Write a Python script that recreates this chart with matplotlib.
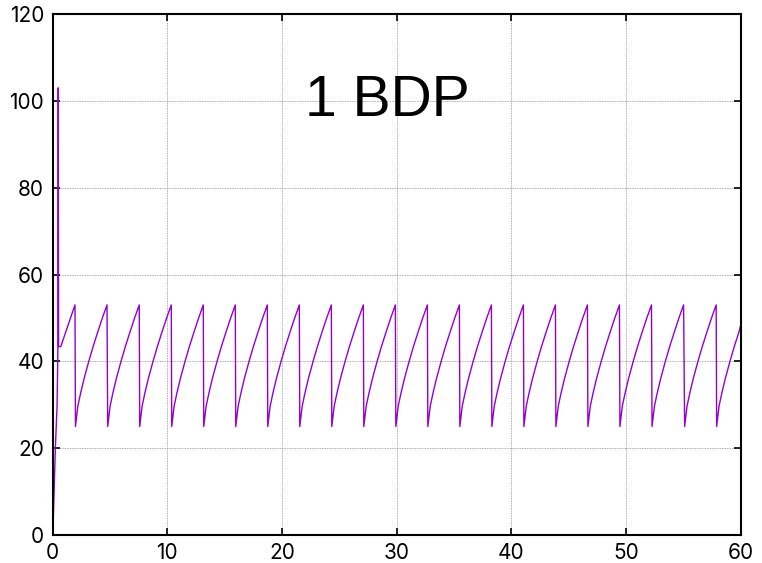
import numpy as np
import matplotlib
matplotlib.use("Agg")
import matplotlib.pyplot as plt

# Start-up phase (time s, value)
start_t = [0.0, 0.05, 0.25, 0.40, 0.47, 0.50, 0.53, 0.72, 1.96]
start_v = [0.0, 2.0, 20.0, 30.0, 43.0, 103.0, 43.4, 43.4, 53.0]

# Times of the sawtooth drops (peak -> trough)
drop_t = [1.96, 4.77, 7.56, 10.35, 13.14, 15.93, 18.72, 21.51, 24.30, 27.09,
          29.88, 32.67, 35.46, 38.25, 41.04, 43.83, 46.62, 49.41, 52.21,
          55.05, 57.84]

# One growth cycle after a drop (time since drop, value)
cycle_dt = [0.04, 0.25, 0.50, 0.80, 1.20, 1.60, 2.00, 2.40, 2.79]
cycle_v = [25.0, 29.7, 32.8, 36.1, 40.0, 43.6, 46.9, 50.1, 53.0]

title = "1 BDP"
x_ticks = [0, 10, 20, 30, 40, 50, 60]
y_ticks = [0, 20, 40, 60, 80, 100, 120]

# Assemble the series
t = list(start_t)
v = list(start_v)
for i, d in enumerate(drop_t):
    nxt = drop_t[i + 1] if i + 1 < len(drop_t) else 60.0
    for dt, val in zip(cycle_dt, cycle_v):
        if d + dt <= nxt + 1e-9:
            t.append(d + dt)
            v.append(val)
    if i + 1 == len(drop_t):
        # last partial cycle up to x=60
        t.append(60.0)
        v.append(48.6)

plt.rcParams['font.family'] = ['Inter', 'DejaVu Sans']
fig = plt.figure(figsize=(7.62, 5.63), dpi=100)
ax = fig.add_axes([0.0689, 0.0497, 0.9724 - 0.0689, 0.9751 - 0.0497])

ax.plot(t, v, color='#9400D3', lw=1.0)

ax.set_xlim(0, 60)
ax.set_ylim(0, 120)
ax.set_xticks(x_ticks)
ax.set_yticks(y_ticks)
ax.grid(True, color='#909090', linestyle=(0, (1, 1)), linewidth=0.6)
ax.tick_params(direction='in', length=5, width=1.2, top=True, right=True,
               labelsize=15, pad=6, colors='black')
for s in ax.spines.values():
    s.set_linewidth(1.5)

ax.text(29.2, 96.5, title, ha='center', va='baseline', fontsize=41,
        family=['Liberation Sans', 'DejaVu Sans'])

fig.savefig('out.png', dpi=100)
